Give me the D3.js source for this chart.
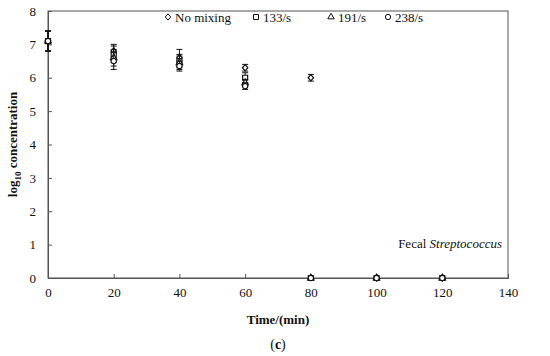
<!DOCTYPE html>
<html>
<head>
<meta charset="utf-8">
<script src="https://cdn.jsdelivr.net/npm/d3@7"></script>
<style>
  body { margin: 0; background: #fff; }
  svg { font-family: 'Liberation Serif', 'Times New Roman', serif; }
</style>
</head>
<body>
<svg id="chart" width="550" height="356"></svg>
<script>
// Données
var times = [0, 20, 40, 60, 80, 100, 120]
var seriesNames = ['No mixing', '133/s', '191/s', '238/s']
var noMixing = [7.1, 6.8, 6.6, 6.3, 6.0, 0, 0]
var noMixingErr = [0.3, 0.2, 0.25, 0.1, 0.1, 0, 0]
var rate133 = [7.1, 6.7, 6.5, 6.0, 0, 0, 0]
var rate133Err = [0.3, 0.25, 0.2, 0.15, 0, 0, 0]
var rate191 = [7.1, 6.6, 6.45, 5.85, 0, 0, 0]
var rate191Err = [0.3, 0.25, 0.2, 0.1, 0, 0, 0]
var rate238 = [7.1, 6.5, 6.35, 5.75, 0, 0, 0]
var rate238Err = [0.3, 0.25, 0.15, 0.1, 0, 0, 0]
var xTicks = [0, 20, 40, 60, 80, 100, 120, 140]
var yTicks = [0, 1, 2, 3, 4, 5, 6, 7, 8]

var margin = { top: 11, right: 42, bottom: 78, left: 48 }
var width = 550
var height = 356
var graphWidth = width - margin.left - margin.right
var graphHeight = height - margin.top - margin.bottom

var svg = d3.select('#chart')
var graph = svg.append('g')
  .attr('transform', 'translate(' + margin.left + ',' + margin.top + ')')

var xScale = d3.scaleLinear().domain([0, 140]).range([0, graphWidth])
var yScale = d3.scaleLinear().domain([0, 8]).range([graphHeight, 0])

// losange plus large que celui de d3
var diamond = {
  draw: function (ctx, size) {
    var r = Math.sqrt(size) / 2
    ctx.moveTo(0, -r * 1.15)
    ctx.lineTo(r, 0)
    ctx.lineTo(0, r * 1.15)
    ctx.lineTo(-r, 0)
    ctx.closePath()
  }
}
var symbols = [diamond, d3.symbolSquare, d3.symbolTriangle, d3.symbolCircle]
var symbolSizes = [30, 25, 18, 22]
var values = [noMixing, rate133, rate191, rate238]
var errors = [noMixingErr, rate133Err, rate191Err, rate238Err]

// cadre
graph.append('rect')
  .attr('width', graphWidth)
  .attr('height', graphHeight)
  .attr('fill', 'none')
  .attr('stroke', '#555')
  .attr('stroke-width', 1)

// axe x
var xAxis = graph.append('g')
  .attr('transform', 'translate(0,' + graphHeight + ')')
  .call(d3.axisBottom(xScale).tickValues(xTicks).tickSize(-4).tickPadding(10))
xAxis.attr('font-family', null)
xAxis.select('.domain').attr('stroke', '#555')
xAxis.selectAll('.tick line').attr('stroke', '#555')
xAxis.selectAll('text').attr('font-size', 13).attr('fill', '#111')

// axe y
var yAxis = graph.append('g')
  .call(d3.axisLeft(yScale).tickValues(yTicks).tickSize(-4).tickPadding(12))
yAxis.attr('font-family', null)
yAxis.select('.domain').attr('stroke', '#555')
yAxis.selectAll('.tick line').attr('stroke', '#555')
yAxis.selectAll('text').attr('font-size', 13).attr('fill', '#111')

// séries avec barres d'erreur
values.forEach(function (vals, s) {
  var pts = times.map(function (t, i) { return { t: t, v: vals[i], e: errors[s][i] } })
  var g = graph.append('g')
  pts.filter(function (d) { return d.e > 0 }).forEach(function (d) {
    var x = xScale(d.t)
    g.append('line')
      .attr('x1', x).attr('x2', x)
      .attr('y1', yScale(d.v - d.e)).attr('y2', yScale(d.v + d.e))
      .attr('stroke', '#111').attr('stroke-width', 1)
    ;[d.v - d.e, d.v + d.e].forEach(function (c) {
      g.append('line')
        .attr('x1', x - 3).attr('x2', x + 3)
        .attr('y1', yScale(c)).attr('y2', yScale(c))
        .attr('stroke', '#111').attr('stroke-width', 1)
    })
  })
  g.selectAll('path')
    .data(pts)
    .enter()
    .append('path')
    .attr('d', d3.symbol().type(symbols[s]).size(symbolSizes[s]))
    .attr('transform', function (d) { return 'translate(' + xScale(d.t) + ',' + yScale(d.v) + ')' })
    .attr('fill', 'white')
    .attr('stroke', '#111')
    .attr('stroke-width', 1.2)
})

// légende
var legendX = [120, 208, 283, 340]
var legend = graph.append('g').attr('transform', 'translate(0,6)')
seriesNames.forEach(function (name, i) {
  legend.append('path')
    .attr('d', d3.symbol().type(symbols[i]).size(symbolSizes[i]))
    .attr('transform', 'translate(' + legendX[i] + ',0)')
    .attr('fill', 'white').attr('stroke', '#111').attr('stroke-width', 1)
  legend.append('text')
    .attr('x', legendX[i] + 7)
    .attr('y', 0)
    .attr('dy', '0.35em')
    .attr('font-size', 13)
    .attr('fill', '#111')
    .text(name)
})

// étiquette
var label = graph.append('text')
  .attr('x', graphWidth - 6)
  .attr('y', yScale(0.9))
  .attr('text-anchor', 'end')
  .attr('font-size', 13)
  .attr('fill', '#111')
label.append('tspan').text('Fecal ')
label.append('tspan').attr('font-style', 'italic').text('Streptococcus')

// titres des axes
svg.append('text')
  .attr('x', margin.left + graphWidth / 2)
  .attr('y', 324)
  .attr('text-anchor', 'middle')
  .attr('font-size', 13)
  .attr('font-weight', 'bold')
  .attr('fill', '#111')
  .text('Time/(min)')

var yTitle = svg.append('text')
  .attr('transform', 'translate(17,' + (margin.top + graphHeight / 2) + ') rotate(-90)')
  .attr('text-anchor', 'middle')
  .attr('font-size', 13)
  .attr('font-weight', 'bold')
  .attr('fill', '#111')
yTitle.append('tspan').text('log')
yTitle.append('tspan').attr('font-size', 9).attr('dy', 4).text('10')
yTitle.append('tspan').attr('dy', -4).text(' concentration')

var sub = svg.append('text')
  .attr('x', margin.left + graphWidth / 2)
  .attr('y', 349)
  .attr('text-anchor', 'middle')
  .attr('font-size', 14)
  .attr('fill', '#111')
sub.append('tspan').text('(')
sub.append('tspan').attr('font-weight', 'bold').text('c')
sub.append('tspan').text(')')
</script>
</body>
</html>
